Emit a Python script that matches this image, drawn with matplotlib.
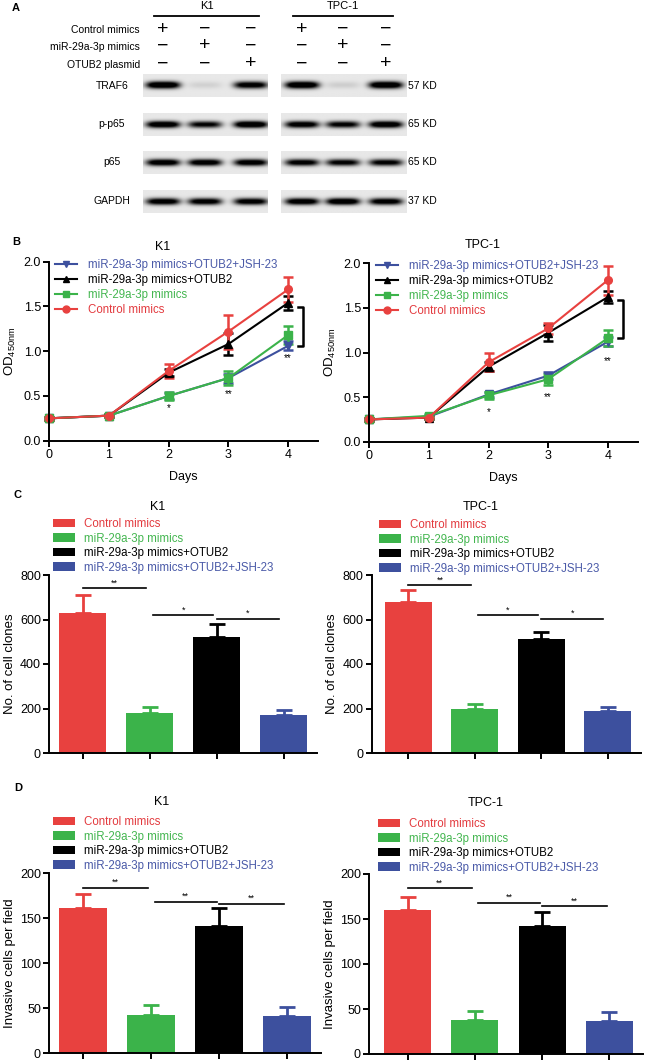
import numpy as np
import matplotlib
matplotlib.use('Agg')
import matplotlib.pyplot as plt
from matplotlib.lines import Line2D
from matplotlib.patches import Patch

W, H = 647, 1061
plt.rcParams['font.family'] = ['Liberation Sans', 'DejaVu Sans']
plt.rcParams['mathtext.fontset'] = 'custom'
plt.rcParams['mathtext.rm'] = 'Liberation Sans'

RED, GREEN, BLACK, BLUE = '#e8413f', '#3bb34a', '#000000', '#3d509e'
RED_TXT, GREEN_TXT, BLUE_TXT = '#e33a3e', '#44b650', '#4a5aa8'

# ---------------- data ----------------
# panel A: western blot
treatments = ['Control mimics', 'miR-29a-3p mimics', 'OTUB2 plasmid']
treat_signs = [['+', '−', '−'], ['−', '+', '−'], ['−', '−', '+']]
proteins = ['TRAF6', 'p-p65', 'p65', 'GAPDH']
weights = ['57 KD', '65 KD', '65 KD', '37 KD']
band_k1 = [[1.0, 0.07, 0.85], [0.95, 0.75, 1.0], [0.9, 0.88, 0.88], [0.88, 0.85, 0.85]]
band_tpc = [[1.0, 0.08, 1.0], [0.88, 0.78, 0.95], [0.82, 0.78, 0.78], [0.9, 0.95, 0.85]]

# panel B: OD450 over days
days = [0, 1, 2, 3, 4]
od_k1_ctrl = [0.25, 0.28, 0.78, 1.22, 1.69]
od_k1_ctrl_err = [0.02, 0.02, 0.08, 0.19, 0.14]
od_k1_mir = [0.25, 0.28, 0.50, 0.70, 1.18]
od_k1_mir_err = [0.02, 0.02, 0.04, 0.08, 0.10]
od_k1_otub = [0.25, 0.28, 0.76, 1.08, 1.54]
od_k1_otub_err = [0.02, 0.02, 0.04, 0.12, 0.08]
od_k1_jsh = [0.25, 0.28, 0.50, 0.70, 1.06]
od_k1_jsh_err = [0.02, 0.02, 0.03, 0.05, 0.05]

od_tpc_ctrl = [0.25, 0.27, 0.89, 1.27, 1.81]
od_tpc_ctrl_err = [0.02, 0.02, 0.10, 0.06, 0.16]
od_tpc_mir = [0.25, 0.29, 0.52, 0.70, 1.16]
od_tpc_mir_err = [0.02, 0.02, 0.04, 0.06, 0.09]
od_tpc_otub = [0.25, 0.27, 0.84, 1.22, 1.62]
od_tpc_otub_err = [0.02, 0.02, 0.05, 0.09, 0.07]
od_tpc_jsh = [0.25, 0.28, 0.53, 0.74, 1.12]
od_tpc_jsh_err = [0.02, 0.02, 0.03, 0.04, 0.05]

# panels C and D
groups = ['Control mimics', 'miR-29a-3p mimics', 'miR-29a-3p mimics+OTUB2',
          'miR-29a-3p mimics+OTUB2+JSH-23']
clones_k1 = [630, 178, 523, 171]
clones_k1_err = [80, 27, 57, 22]
clones_tpc = [680, 200, 512, 190]
clones_tpc_err = [52, 20, 33, 18]
invasion_k1 = [161, 43, 141, 41]
invasion_k1_err = [16, 11, 20, 11]
invasion_tpc = [160, 38, 142, 37]
invasion_tpc_err = [14, 10, 16, 10]

# significance: (from group, to group, height, label)
sig_clones_k1 = [(0, 0.95, 740, '**'), (1.05, 1.95, 619, '*'), (2.0, 2.93, 603, '*')]
sig_clones_tpc = [(0, 0.95, 755, '**'), (1.05, 1.95, 619, '*'), (2.0, 2.93, 603, '*')]
sig_inv_k1 = [(0, 0.95, 184, '**'), (1.05, 1.97, 168.5, '**'), (2.0, 2.95, 166, '**')]
sig_inv_tpc = [(0, 0.95, 184, '**'), (1.05, 1.97, 168, '**'), (2.0, 2.97, 164, '**')]

fig = plt.figure(figsize=(W / 100, H / 100), dpi=100)


def box(x0, y0, x1, y1):
    return [x0 / W, 1 - y1 / H, (x1 - x0) / W, (y1 - y0) / H]


over = fig.add_axes([0, 0, 1, 1])
over.set_xlim(0, W)
over.set_ylim(H, 0)
over.axis('off')

# ---------------- panel A ----------------
over.text(12, 8, 'A', fontsize=8, fontweight='bold', va='center')
lanes_k1 = [163, 205, 251]
lanes_tpc = [302, 343, 386]
for name, lanes, x0, x1 in [('K1', lanes_k1, 154, 259), ('TPC-1', lanes_tpc, 293, 393)]:
    over.text((x0 + x1) / 2, 6, name, fontsize=8, ha='center', va='center')
    over.plot([x0, x1], [16, 16], color='k', lw=1.3)
sign_y = [29, 46, 64]
for i, t in enumerate(treatments):
    over.text(140, sign_y[i] + 1, t, fontsize=7.5, ha='right', va='center')
    for lanes in (lanes_k1, lanes_tpc):
        for j, s in enumerate(treat_signs[i]):
            over.text(lanes[j], sign_y[i], s, fontsize=14, ha='center', va='center',
                      fontweight='light')

strip_y = [(74, 97), (113, 136), (151, 174), (190, 213)]
label_y = [86, 124, 162, 201]
for r, prot in enumerate(proteins):
    over.text(112, label_y[r], prot, fontsize=7.5, ha='center', va='center')
    over.text(408, label_y[r], weights[r], fontsize=7.5, ha='left', va='center')
    y0, y1 = strip_y[r]
    for lanes, bands, x0, x1 in [(lanes_k1, band_k1, 143, 268), (lanes_tpc, band_tpc, 281, 407)]:
        ax = fig.add_axes(box(x0, y0, x1, y1))
        xs = np.linspace(x0, x1, 300)
        ys = np.linspace(y0, y1, 60)
        X, Y = np.meshgrid(xs, ys)
        img = np.full_like(X, 0.09)
        cy = (y0 + y1) / 2
        for cx, v in zip(lanes, bands[r]):
            img += 1.3 * v * np.exp(-(np.abs(X - cx) / 17) ** 4) * np.exp(-((Y - cy) / 3.4) ** 2)
        ax.imshow(np.clip(img, 0, 1), extent=(x0, x1, y1, y0), cmap='gray_r', vmin=0, vmax=1,
                  aspect='auto', interpolation='bilinear')
        ax.axis('off')


def style_axes(ax):
    for s in ('top', 'right'):
        ax.spines[s].set_visible(False)
    for s in ('left', 'bottom'):
        ax.spines[s].set_linewidth(1.4)
    ax.tick_params(direction='out', length=4, width=1.4, labelsize=9, pad=2)


# ---------------- panel B ----------------
over.text(12, 242, 'B', fontsize=8, fontweight='bold', va='center')
b_series = [
    ((49.3, 261.7, 318, 440.7), 'K1', (163, 247),
     [(od_k1_jsh, od_k1_jsh_err), (od_k1_otub, od_k1_otub_err),
      (od_k1_mir, od_k1_mir_err), (od_k1_ctrl, od_k1_ctrl_err)],
     [0.36, 0.52, 0.92], (1.06, 1.49), 55, 259),
    ((369.3, 263.3, 637.5, 441.7), 'TPC-1', (483, 245),
     [(od_tpc_jsh, od_tpc_jsh_err), (od_tpc_otub, od_tpc_otub_err),
      (od_tpc_mir, od_tpc_mir_err), (od_tpc_ctrl, od_tpc_ctrl_err)],
     [0.33, 0.50, 0.90], (1.16, 1.59), 376, 260),
]
line_styles = [(BLUE, 'v', 'miR-29a-3p mimics+OTUB2+JSH-23', BLUE_TXT),
               (BLACK, '^', 'miR-29a-3p mimics+OTUB2', BLACK),
               (GREEN, 's', 'miR-29a-3p mimics', GREEN_TXT),
               (RED, 'o', 'Control mimics', RED_TXT)]
for bx, title, tpos, series, star_y, bracket, lx, ly in b_series:
    ax = fig.add_axes(box(*bx))
    for (vals, err), (c, m, lab, tc) in zip(series, line_styles):
        ax.errorbar(days, vals, yerr=err, color=c, marker=m, ms=5.5, lw=1.5,
                    elinewidth=1.8, capsize=3.5, capthick=1.8, clip_on=False)
    for d, s, y in zip([2, 3, 4], ['*', '**', '**'], star_y):
        ax.text(d, y, s, fontsize=7, ha='center', va='center')
    ax.plot([4.17, 4.25, 4.25, 4.17], [bracket[1], bracket[1], bracket[0], bracket[0]],
            color='k', lw=1.8, clip_on=False)
    ax.set_xlim(0, 4.5)
    ax.set_ylim(0, 2.0)
    ax.set_xticks(days)
    ax.set_yticks([0, 0.5, 1.0, 1.5, 2.0])
    ax.set_yticklabels(['0.0', '0.5', '1.0', '1.5', '2.0'])
    style_axes(ax)
    ax.set_xlabel('Days', fontsize=9, labelpad=7)
    ax.set_ylabel(r'OD$_{\mathregular{450nm}}$', fontsize=9.5, labelpad=4)
    over.text(tpos[0], tpos[1], title, fontsize=9, ha='center', va='center')
    handles = [Line2D([], [], color=c, marker=m, ms=5, lw=1.5) for c, m, _, _ in line_styles]
    leg = ax.legend(handles, [s[2] for s in line_styles], loc='upper left',
                    bbox_to_anchor=(lx / W, 1 - ly / H), bbox_transform=fig.transFigure,
                    frameon=False, fontsize=8.3, borderpad=0, borderaxespad=0,
                    handlelength=1.9, handletextpad=1.0, labelspacing=0.25)
    for t, s in zip(leg.get_texts(), line_styles):
        t.set_color(s[3])

# ---------------- panels C and D ----------------
bar_colors = [RED, GREEN, BLACK, BLUE]
text_colors = [RED_TXT, GREEN_TXT, BLACK, BLUE_TXT]
over.text(14, 495, 'C', fontsize=8, fontweight='bold', va='center')
over.text(14, 788, 'D', fontsize=8, fontweight='bold', va='center')
bar_panels = [
    ((49.3, 575, 317, 753), -0.5, 'K1', (158, 507), clones_k1, clones_k1_err, sig_clones_k1,
     800, [0, 200, 400, 600, 800], 'No. of cell clones', 53, 518),
    ((371.7, 575, 641, 753), -0.55, 'TPC-1', (481, 507), clones_tpc, clones_tpc_err,
     sig_clones_tpc, 800, [0, 200, 400, 600, 800], 'No. of cell clones', 379, 519),
    ((49.3, 873.3, 321, 1053.3), -0.5, 'K1', (162, 802), invasion_k1, invasion_k1_err,
     sig_inv_k1, 200, [0, 50, 100, 150, 200], 'Invasive cells per field', 53, 816),
    ((369.3, 874, 643, 1054), -0.57, 'TPC-1', (486, 803), invasion_tpc, invasion_tpc_err,
     sig_inv_tpc, 200, [0, 50, 100, 150, 200], 'Invasive cells per field', 378, 818),
]
for bx, xl, title, tpos, vals, err, sig, ymax, yt, ylab, lx, ly in bar_panels:
    ax = fig.add_axes(box(*bx))
    x = np.arange(len(vals))
    for i in range(len(vals)):
        ax.bar(x[i], vals[i], width=0.7, color=bar_colors[i], zorder=2)
        ax.errorbar(x[i], vals[i], yerr=[[0], [err[i]]], color=bar_colors[i],
                    elinewidth=2, capsize=6, capthick=2, zorder=1)
    for a, b, h, s in sig:
        ax.plot([a, b], [h, h], color='k', lw=1.2, clip_on=False)
        ax.text((a + b) / 2, h + ymax * 0.004, s, fontsize=6.5, ha='center', va='bottom')
    ax.set_xlim(xl, 3.5)
    ax.set_ylim(0, ymax)
    ax.set_xticks(x)
    ax.set_xticklabels([])
    ax.set_yticks(yt)
    style_axes(ax)
    ax.set_ylabel(ylab, fontsize=9.5, labelpad=3)
    over.text(tpos[0], tpos[1], title, fontsize=9, ha='center', va='center')
    handles = [Patch(facecolor=c) for c in bar_colors]
    leg = ax.legend(handles, groups, loc='upper left',
                    bbox_to_anchor=(lx / W, 1 - ly / H), bbox_transform=fig.transFigure,
                    frameon=False, fontsize=8.3, borderpad=0, borderaxespad=0,
                    handlelength=1.9, handleheight=0.8, handletextpad=0.8, labelspacing=0.22)
    for t, c in zip(leg.get_texts(), text_colors):
        t.set_color(c)

fig.savefig('out.png', dpi=100)
